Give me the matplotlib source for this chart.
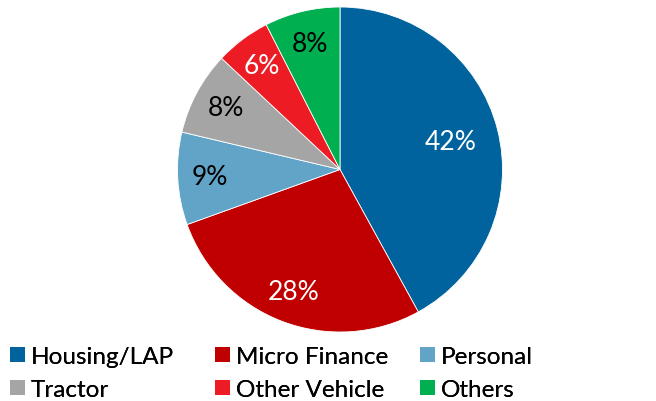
import matplotlib.pyplot as plt
from matplotlib.patches import Patch

# data
categories = ["Housing/LAP", "Micro Finance", "Personal", "Tractor", "Other Vehicle", "Others"]
shares = [42.0, 27.5, 9.2, 8.3, 5.5, 7.5]
pct_labels = ["42%", "28%", "9%", "8%", "6%", "8%"]
colors = ["#00639E", "#C00000", "#62A3C8", "#A5A5A5", "#ED1C24", "#00B050"]
text_colors = ["white", "white", "black", "black", "white", "black"]

plt.rcParams["font.family"] = ["Lato", "DejaVu Sans"]

W, H = 656, 402
fig = plt.figure(figsize=(W / 100, H / 100), dpi=100)
cx, cy, r = 340, 170.5, 162.5
ax = fig.add_axes([(cx - r) / W, 1 - (cy + r) / H, 2 * r / W, 2 * r / H])

wedges, texts = ax.pie(shares, labels=pct_labels, colors=colors, startangle=90,
                       counterclock=False, labeldistance=0.8,
                       wedgeprops=dict(edgecolor="white", linewidth=0.6),
                       textprops=dict(fontsize=19))
for t, c in zip(texts, text_colors):
    t.set_color(c)
    t.set_ha("center")
    t.set_va("center")
# the big slice has its label a bit further in
x0, y0 = texts[0].get_position()
texts[0].set_position((x0 * 0.88, y0 * 0.88))
ax.set_xlim(-1, 1)
ax.set_ylim(-1, 1)
ax.set_aspect("equal")

# legend: one small legend per column so the columns line up
col_x = [10, 215, 420]
for k in range(3):
    idx = [k, k + 3]
    handles = [Patch(facecolor=colors[i], edgecolor="none") for i in idx]
    leg = fig.legend(handles, [categories[i] for i in idx], loc="center left",
                     bbox_to_anchor=(col_x[k] / W, 1 - 374 / H), frameon=False,
                     fontsize=17.5, handlelength=0.6, handleheight=0.6,
                     handletextpad=0.25, labelspacing=0.5, borderpad=0,
                     borderaxespad=0)
    fig.add_artist(leg)

fig.savefig("out.png", dpi=100)
